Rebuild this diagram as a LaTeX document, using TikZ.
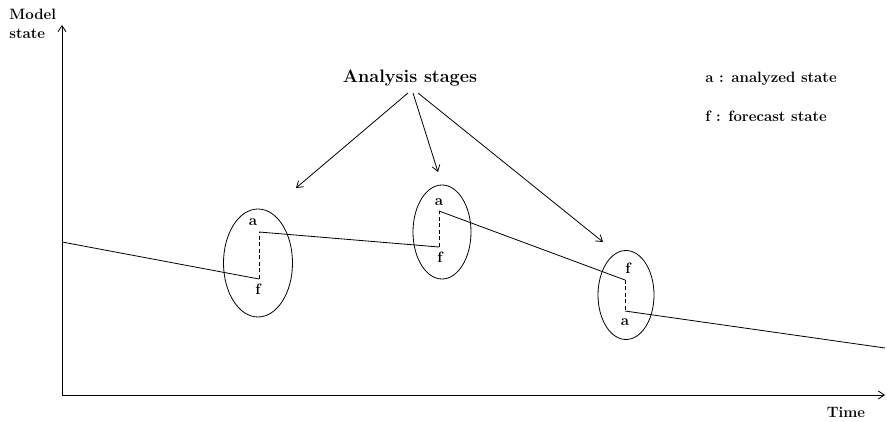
\documentclass[tikz,border=0pt]{standalone}
\usetikzlibrary{arrows.meta,shapes.geometric}
\tikzset{>={Straight Barb[length=6pt,width=8pt]}}
\tikzset{
  lbl/.style={font=\fontsize{15}{19}\selectfont\bfseries,inner sep=0pt},
  stage/.style={draw,ellipse,inner sep=0pt,line width=0.8pt},
  traj/.style={line width=0.8pt},
  jump/.style={line width=0.8pt,dash pattern=on 4pt off 2.5pt},
}

\begin{document}
\begin{tikzpicture}[x=1pt,y=-1pt,line width=0.8pt]
  \useasboundingbox (0,0) rectangle (887,422);
  % axes
  \coordinate (o) at (62,395);
  \draw[->] (o) -- (62,25);
  \draw[->] (o) -- (885,395);
  \node[lbl,align=left,anchor=north west] (ylab) at (9,9) {Model\\state};
  \node[lbl,anchor=base] (xlab) at (846,417) {Time};
  % analysis stages
  \node[stage,minimum width=69pt,minimum height=108pt] (e1) at (258,263) {};
  \node[stage,minimum width=58pt,minimum height=94pt] (e2) at (442,232) {};
  \node[stage,minimum width=56pt,minimum height=89pt] (e3) at (626,295) {};
  % trajectory
  \coordinate (s) at (62,242);
  \coordinate (f1) at (259,279);
  \coordinate (a1) at (259,232);
  \coordinate (f2) at (439,247);
  \coordinate (a2) at (439,211);
  \coordinate (f3) at (625,280);
  \coordinate (a3) at (625,311);
  \coordinate (t) at (885,348);
  \draw[traj] (s) -- (f1);
  \draw[jump] (f1) -- (a1);
  \draw[traj] (a1) -- (f2);
  \draw[jump] (f2) -- (a2);
  \draw[traj] (a2) -- (f3);
  \draw[jump] (f3) -- (a3);
  \draw[traj] (a3) -- (t);
  % labels in the stages
  \node[lbl,anchor=base] (la1) at (253,226) {a};
  \node[lbl,anchor=base] (lf1) at (258,295) {f};
  \node[lbl,anchor=base] (la2) at (439,206) {a};
  \node[lbl,anchor=base] (lf2) at (440,263) {f};
  \node[lbl,anchor=base] (lf3) at (628,274) {f};
  \node[lbl,anchor=base] (la3) at (625,326) {a};
  % title and arrows
  \node[lbl,font=\fontsize{18}{20}\selectfont\bfseries,anchor=base] (title) at (410,83) {Analysis stages};
  \coordinate (p1) at (296,188);
  \coordinate (p2) at (438,172);
  \coordinate (p3) at (603,242);
  \draw[->] (408,93) -- (p1);
  \draw[->] (413,93) -- (p2);
  \draw[->] (418,93) -- (p3);
  % legend
  \node[lbl,anchor=base west] (leg1) at (705,83) {a : analyzed state};
  \node[lbl,anchor=base west] (leg2) at (705,122) {f : forecast state};
\end{tikzpicture}
\end{document}
